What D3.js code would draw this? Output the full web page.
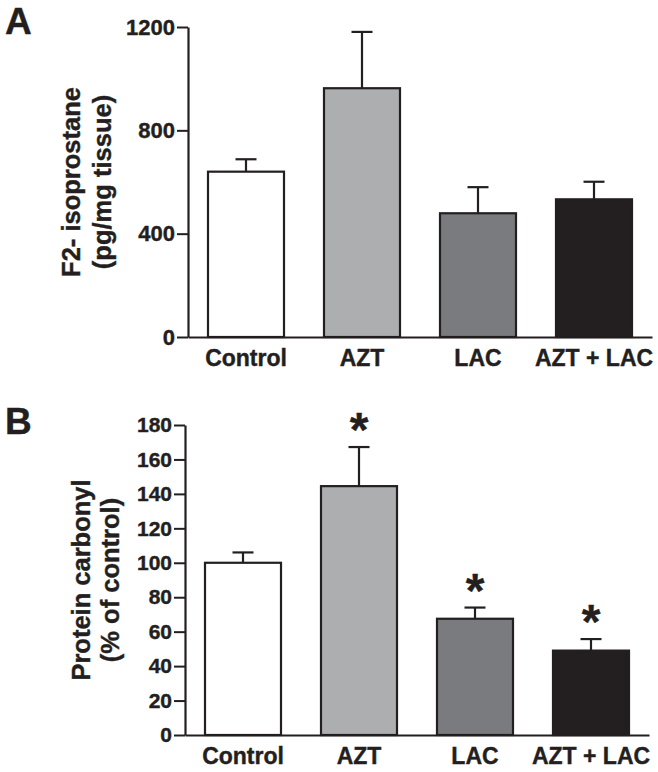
<!DOCTYPE html>
<html>
<head>
<meta charset="utf-8">
<script src="https://cdn.jsdelivr.net/npm/d3@7"></script>
<style>
  html, body { margin: 0; padding: 0; background: #fff; }
  svg text { font-family: "Liberation Sans", Arial, Helvetica, sans-serif; font-weight: bold; fill: #231f20; stroke: #231f20; stroke-width: 0.4px; }
</style>
</head>
<body>
<svg id="chart" width="658" height="772"></svg>
<script>
// ---- data ----
const categories = ["Control", "AZT", "LAC", "AZT + LAC"];
const barColors = ["#ffffff", "#adaeb0", "#7a7b7e", "#231f20"];

// Panel A: F2-isoprostane (pg/mg tissue)
const isoMean = [640, 963, 479, 533];
const isoErr  = [48, 218, 101, 68];
const isoTicks = [0, 400, 800, 1200];

// Panel B: Protein carbonyl (% of control)
const carbMean = [100, 144.5, 67.5, 49];
const carbErr  = [6, 22.7, 6.5, 6.7];
const carbTicks = [0, 20, 40, 60, 80, 100, 120, 140, 160, 180];
const carbSig = [false, true, true, true];

const ink = "#231f20";
const svg = d3.select("#chart");

function panel(cfg) {
  const g = svg.append("g");
  const x = d3.scaleBand().domain(categories).range([cfg.x0, cfg.x1]).padding(0);
  const y = d3.scaleLinear().domain(cfg.domain).range([cfg.yBottom, cfg.yTop]);
  const bw = 76;

  // bars
  g.selectAll("rect.bar").data(categories).enter().append("rect")
    .attr("x", d => x(d) + (x.bandwidth() - bw) / 2)
    .attr("y", (d, i) => y(cfg.mean[i]))
    .attr("width", bw)
    .attr("height", (d, i) => y(0) - y(cfg.mean[i]))
    .attr("fill", (d, i) => barColors[i])
    .attr("stroke", ink).attr("stroke-width", 2.2);

  // error bars (upper only)
  const cap = 21;
  categories.forEach((c, i) => {
    const cx = x(c) + x.bandwidth() / 2;
    const top = y(cfg.mean[i] + cfg.err[i]);
    g.append("line").attr("x1", cx).attr("x2", cx)
      .attr("y1", y(cfg.mean[i])).attr("y2", top)
      .attr("stroke", ink).attr("stroke-width", 2.2);
    g.append("line").attr("x1", cx - cap / 2).attr("x2", cx + cap / 2)
      .attr("y1", top).attr("y2", top)
      .attr("stroke", ink).attr("stroke-width", 2.2);
    if (cfg.sig && cfg.sig[i]) {
      g.append("text").attr("x", cx).attr("y", top - 22 + 21)
        .attr("text-anchor", "middle").style("font-size", "48px").text("*");
    }
  });

  // y axis
  const yAxis = d3.axisLeft(y).tickValues(cfg.ticks).tickFormat(d3.format("d"))
    .tickSize(11).tickSizeOuter(0).tickPadding(2);
  const ya = g.append("g").attr("transform", `translate(${cfg.x0},0)`).call(yAxis);
  ya.attr("font-family", null).attr("font-size", null);
  ya.select(".domain").attr("stroke", ink).attr("stroke-width", 2.2);
  ya.selectAll(".tick line").attr("stroke", ink).attr("stroke-width", 2);
  ya.selectAll(".tick text").style("font-size", cfg.tickFont + "px").attr("fill", ink);

  // x axis
  const xAxis = d3.axisBottom(x).tickSize(0).tickSizeOuter(0).tickPadding(13);
  const xa = g.append("g").attr("transform", `translate(0,${cfg.yBottom})`).call(xAxis);
  xa.attr("font-family", null).attr("font-size", null);
  xa.select(".domain").attr("stroke", ink).attr("stroke-width", 2.2);
  xa.selectAll(".tick text").style("font-size", "23px").attr("fill", ink);

  // y label (two lines)
  const cy = (cfg.yBottom + cfg.yTop) / 2;
  cfg.label.forEach((t, k) => {
    g.append("text")
      .attr("transform", `translate(${cfg.labelX[k]},${cy}) rotate(-90)`)
      .attr("text-anchor", "middle")
      .style("font-size", "25.5px")
      .text(t);
  });

  // panel letter
  g.append("text").attr("x", 5).attr("y", cfg.letterY).style("font-size", "37px").text(cfg.letter);
}

panel({
  x0: 188, x1: 652, yBottom: 337, yTop: 27, domain: [0, 1200],
  mean: isoMean, err: isoErr, ticks: isoTicks, tickFont: 22,
  label: ["F2- isoprostane", "(pg/mg tissue)"], labelX: [80, 111],
  letter: "A", letterY: 34
});

panel({
  x0: 185, x1: 649, yBottom: 735, yTop: 425, domain: [0, 180],
  mean: carbMean, err: carbErr, ticks: carbTicks, tickFont: 21, sig: carbSig,
  label: ["Protein carbonyl", "(% of control)"], labelX: [90, 119],
  letter: "B", letterY: 434
});
</script>
</body>
</html>
